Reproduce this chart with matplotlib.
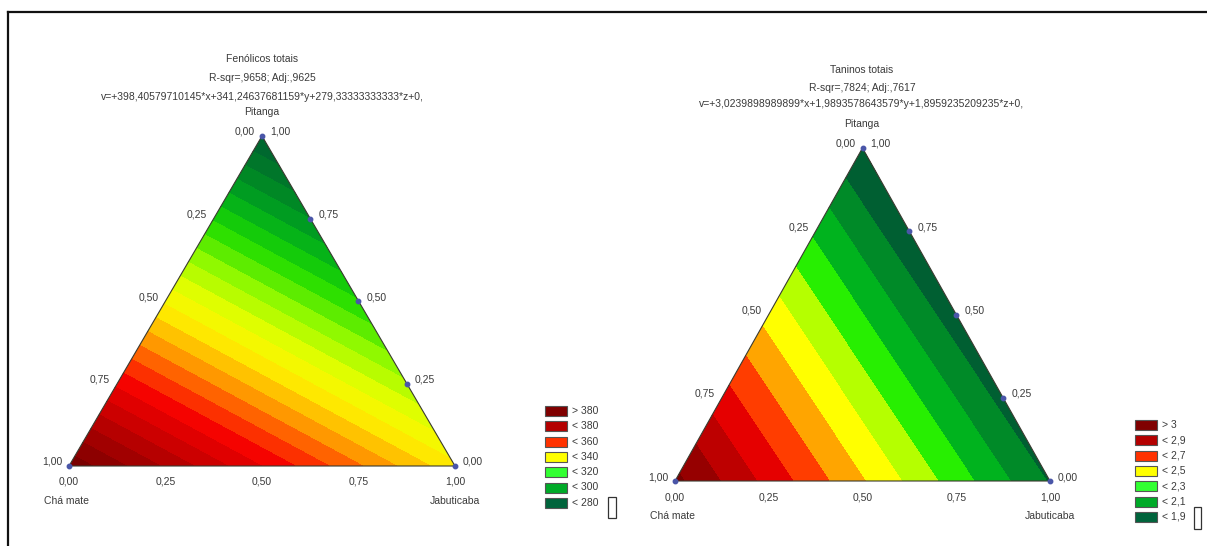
import numpy as np
import matplotlib
matplotlib.use("Agg")
import matplotlib.pyplot as plt
from matplotlib.colors import LinearSegmentedColormap, Normalize
from matplotlib.patches import Rectangle, Polygon

plt.rcParams['font.family'] = ['Liberation Sans', 'DejaVu Sans']

W, H = 1207, 546
TXT = '#3a3a3a'
FS = 7.5

# modelos lineares ajustados: x = Chá mate, y = Jabuticaba, z = Pitanga
fen_coef = [398.40579710145, 341.24637681159, 279.33333333333]
tan_coef = [3.0239898989899, 1.9893578643579, 1.8959235209235]

fen_title = ["Fenólicos totais",
             "R-sqr=,9658; Adj:,9625",
             "v=+398,40579710145*x+341,24637681159*y+279,33333333333*z+0,"]
tan_title = ["Taninos totais",
             "R-sqr=,7824; Adj:,7617",
             "v=+3,0239898989899*x+1,9893578643579*y+1,8959235209235*z+0,"]

fen_levels = [275, 280, 285, 290, 295, 300, 305, 310, 315, 320, 325, 330, 335,
              340, 345, 350, 355, 360, 365, 370, 375, 380, 385, 390, 395, 400, 405]
tan_levels = [1.8, 1.9, 2.0, 2.1, 2.2, 2.3, 2.4, 2.5, 2.6, 2.7, 2.8, 2.9, 3.0, 3.1]

# paleta (valor, cor) de cada gráfico
fen_anchor_vals = [279, 290, 300, 311, 323, 335, 343, 352, 360, 368, 383, 398]
fen_anchor_colors = ['#005f32', '#007d28', '#00a81e', '#1edc00', '#96fa00', '#f0ff00',
                     '#ffe600', '#ffa000', '#ff4600', '#f50000', '#b40000', '#780000']
tan_anchor_vals = [1.95, 2.05, 2.15, 2.25, 2.35, 2.45, 2.55, 2.65, 2.75, 2.85, 2.95, 3.05]
tan_anchor_colors = ['#005f32', '#008a28', '#00b41e', '#28f000', '#b4ff00', '#ffff00',
                     '#ffa500', '#ff3c00', '#e60000', '#be0000', '#960000', '#780000']

legend_colors = ['#800000', '#b40000', '#ff3200', '#ffff00', '#32ff32', '#00aa28', '#00643c']
fen_legend = ["> 380", "< 380", "< 360", "< 340", "< 320", "< 300", "< 280"]
tan_legend = ["> 3", "< 2,9", "< 2,7", "< 2,5", "< 2,3", "< 2,1", "< 1,9"]

ticks = [0.0, 0.25, 0.5, 0.75, 1.0]
tick_labels = ["0,00", "0,25", "0,50", "0,75", "1,00"]
names = ["Chá mate", "Jabuticaba", "Pitanga"]


def make_cmap(vals, cols):
    lo, hi = vals[0], vals[-1]
    pos = [(v - lo) / (hi - lo) for v in vals]
    return LinearSegmentedColormap.from_list('sta', list(zip(pos, cols))), Normalize(lo, hi)


def ternary(fig, box, coef, levels, avals, acols):
    x0, y0, x1, y1 = box  # caixa do triângulo em pixels
    ax = fig.add_axes([x0 / W, 1 - y1 / H, (x1 - x0) / W, (y1 - y0) / H])
    ax.set_xlim(0, 1)
    ax.set_ylim(0, 1)
    ax.axis('off')

    # grade cartesiana -> coordenadas da mistura
    gx, gy = np.meshgrid(np.linspace(0, 1, 301), np.linspace(0, 1, 301))
    p = gy
    j = gx - 0.5 * gy
    c = 1 - j - p
    Z = coef[0] * c + coef[1] * j + coef[2] * p
    cmap, norm = make_cmap(avals, acols)
    tri_patch = Polygon([[0, 0], [1, 0], [0.5, 1]], closed=True, fill=False,
                        edgecolor='#3a3a30', lw=0.8, clip_on=False, zorder=3)
    ax.add_patch(tri_patch)
    cs = ax.contourf(gx, gy, Z, levels=levels, cmap=cmap, norm=norm)
    cs.set_edgecolor('face')
    cs.set_linewidth(0.4)
    cs.set_clip_path(tri_patch)

    kw = dict(textcoords='offset pixels', fontsize=FS, color=TXT, annotation_clip=False)
    for t, lab in zip(ticks, tick_labels):
        # lado esquerdo: Chá mate
        ax.annotate(lab, (0.5 * (1 - t), 1 - t), xytext=(-7, 4), ha='right', va='center', **kw)
        # lado direito: Pitanga
        ax.annotate(lab, (1 - 0.5 * t, t), xytext=(8, 4), ha='left', va='center', **kw)
        # base: Jabuticaba
        ax.annotate(lab, (t, 0), xytext=(0, -16), ha='center', va='center', **kw)
    ax.plot([1 - 0.5 * t for t in ticks], ticks, 'o', ms=3.2, color='#4a56a8',
            clip_on=False, zorder=5)
    ax.plot([0], [0], 'o', ms=3.2, color='#4a56a8', clip_on=False, zorder=5)
    ax.annotate(names[0], (0, 0), xytext=(-2, -35), ha='center', va='center', **kw)
    ax.annotate(names[1], (1, 0), xytext=(0, -35), ha='center', va='center', **kw)
    return ax


fig = plt.figure(figsize=(W / 100, H / 100), dpi=100)
over = fig.add_axes([0, 0, 1, 1])
over.set_xlim(0, W)
over.set_ylim(H, 0)
over.axis('off')

# moldura
over.plot([8, W], [12, 12], color='#111111', lw=1.6)
over.plot([8, 8], [12, H], color='#111111', lw=1.6)

ternary(fig, (69, 136, 455, 466), fen_coef, fen_levels, fen_anchor_vals, fen_anchor_colors)
ternary(fig, (675, 148, 1050, 481), tan_coef, tan_levels, tan_anchor_vals, tan_anchor_colors)

for cx, ys, lines in [(262, [59, 78, 96.5, 112], fen_title), (862, [70, 88, 104, 124], tan_title)]:
    for y, s in zip(ys, lines + [names[2]]):
        over.text(cx, y, s, ha='center', va='center', fontsize=FS, color=TXT)

# legendas
for bx, y0, labels in [(545, 411, fen_legend), (1135, 425, tan_legend)]:
    for i, (lab, col) in enumerate(zip(labels, legend_colors)):
        y = y0 + i * 15.3
        over.add_patch(Rectangle((bx, y - 5), 22, 10, facecolor=col, edgecolor='#555555', lw=0.8))
        over.text(bx + 27, y, lab, ha='left', va='center', fontsize=FS, color=TXT)

# caixinhas de glifo ausente
over.add_patch(Rectangle((608, 497), 8, 21, fill=False, edgecolor='#333333', lw=0.9))
over.add_patch(Rectangle((1194, 507), 7, 22, fill=False, edgecolor='#333333', lw=0.9))

fig.savefig('out.png', dpi=100)
